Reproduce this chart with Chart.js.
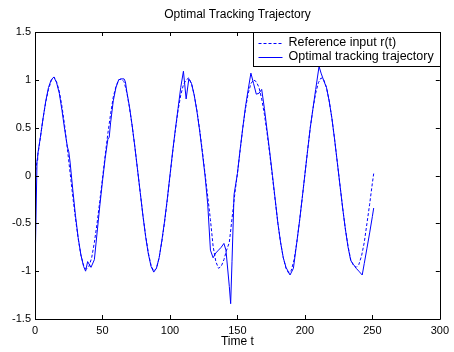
<!DOCTYPE html>
<html>
<head>
<meta charset="utf-8">
<script src="https://cdn.jsdelivr.net/npm/chart.js@4/dist/chart.umd.min.js"></script>
<style>
  body { margin: 0; background: #fff; }
  canvas { display: block; }
</style>
</head>
<body>
<canvas id="trackChart" width="454" height="352"></canvas>
<script>
// values
const refTime = [0,2,4,6,8,10,12,14,16,18,20,22,24,26,28,30,32,34,36,38,40,42,44,46,48,50,
  52,54,56,58,60,62,64,66,68,70,72,74,76,78,80,82,84,86,88,90,92,94,96,98,100,
  102,104,106,108,110,112,114,116,118,120,122,124,126,128,130,132,134,136,138,140,142,144,146,148,150,
  152,154,156,158,160,162,164,166,168,170,172,174,176,178,180,182,184,186,188,190,192,194,196,198,200,
  202,204,206,208,210,212,214,216,218,220,222,224,226,228,230,232,234,236,238,240,242,244,246,248,250,251];
const refValue = [0,0.2,0.4,0.6,0.77,0.9,0.99,1.03,0.98,0.88,0.72,0.52,0.28,0.03,-0.22,-0.45,-0.66,-0.83,-0.94,-0.98,-0.95,-0.86,-0.7,-0.5,-0.27,-0.03,
  0.21,0.44,0.64,0.82,0.93,1.0,1.01,0.98,0.87,0.71,0.52,0.3,0.06,-0.18,-0.42,-0.63,-0.81,-0.94,-1.0,-0.97,-0.86,-0.69,-0.49,-0.26,-0.01,
  0.24,0.47,0.68,0.84,0.95,1.0,1.02,0.96,0.84,0.68,0.48,0.26,0.02,-0.22,-0.46,-0.74,-0.9,-0.97,-0.95,-0.88,-0.78,-0.7,-0.45,-0.2,0.02,
  0.26,0.5,0.7,0.86,0.96,1.0,0.98,0.92,0.8,0.64,0.44,0.22,-0.02,-0.26,-0.5,-0.7,-0.86,-0.97,-1.02,-0.99,-0.88,-0.7,-0.48,-0.24,0.01,
  0.26,0.5,0.7,0.86,0.97,1.02,1.0,0.92,0.78,0.6,0.38,0.14,-0.1,-0.34,-0.56,-0.74,-0.88,-0.94,-0.96,-0.93,-0.84,-0.7,-0.5,-0.3,-0.08,0.02];

const trackTime = [0,1.5,2,4,6,8,10,12,14,16,18,20,22,24,25,26,28,30,32,34,36,37.5,39,41.5,44,46,48,50,
  52,54,55,56,58,60,62,64,66,67,68,70,72,74,76,78,80,82,84,86,88,90,92,94,96,98,100,
  102,104,106,108,110,112,114,116,118,120,122,124,126,128,130,132,134,136,138,140,141.5,144,145,146,147.5,150,
  152,154,156,158,160,162,164,166,168,170,172,174,176,178,180,182,184,186,189,191.5,194,196,198,200,
  202,204,206,208,210.5,212,214,216,218,220,222,224,226,228,230,232,234,236,238,240,242.5,244,246,248,250,251];
const trackValue = [-1.0,0.16,0.22,0.4,0.6,0.78,0.92,1.0,1.03,0.97,0.86,0.68,0.48,0.3,0.25,0.14,-0.15,-0.42,-0.65,-0.83,-0.95,-1.0,-0.9,-0.96,-0.88,-0.6,-0.32,-0.06,
  0.18,0.38,0.4,0.55,0.78,0.92,1.0,1.01,1.01,0.98,0.88,0.72,0.52,0.3,0.06,-0.18,-0.42,-0.64,-0.82,-0.95,-1.01,-0.97,-0.86,-0.68,-0.48,-0.25,0.0,
  0.25,0.48,0.7,0.92,1.09,0.8,1.01,0.96,0.84,0.67,0.47,0.24,0.0,-0.3,-0.78,-0.86,-0.81,-0.78,-0.75,-0.71,-0.78,-1.16,-1.34,-0.9,-0.2,0.02,
  0.27,0.5,0.72,0.9,1.07,0.96,0.85,0.86,0.9,0.7,0.47,0.24,0.0,-0.25,-0.5,-0.7,-0.86,-0.96,-1.04,-0.97,-0.7,-0.48,-0.24,0.01,
  0.26,0.5,0.7,0.9,1.14,1.07,0.99,0.92,0.78,0.6,0.38,0.14,-0.1,-0.34,-0.56,-0.75,-0.89,-0.93,-0.97,-1.0,-1.04,-0.92,-0.76,-0.6,-0.43,-0.34];

const xTicks = [0, 50, 100, 150, 200, 250, 300];
const yTicks = [-1.5, -1, -0.5, 0, 0.5, 1, 1.5];
const seriesNames = ["Reference input r(t)", "Optimal tracking trajectory"];

const FONT = "Liberation Sans, Arial, sans-serif";

function toPoints(xs, ys) {
    return xs.map((x, i) => ({ x: x, y: ys[i] }));
}

// box, inward ticks, title and legend in MATLAB style
const matlabFrame = {
    id: "matlabFrame",
    afterDraw(chart) {
        const ctx = chart.ctx;
        const a = chart.chartArea;
        const xs = chart.scales.x;
        const ys = chart.scales.y;
        ctx.save();
        ctx.strokeStyle = "#000";
        ctx.lineWidth = 1;
        ctx.setLineDash([]);
        ctx.beginPath();
        ctx.rect(Math.round(a.left) + 0.5, Math.round(a.top) + 0.5,
                 Math.round(a.right - a.left), Math.round(a.bottom - a.top));
        ctx.stroke();

        const len = 4;
        ctx.beginPath();
        xTicks.forEach(v => {
            const px = Math.round(xs.getPixelForValue(v)) + 0.5;
            ctx.moveTo(px, a.bottom); ctx.lineTo(px, a.bottom - len);
            ctx.moveTo(px, a.top); ctx.lineTo(px, a.top + len);
        });
        yTicks.forEach(v => {
            const py = Math.round(ys.getPixelForValue(v)) + 0.5;
            ctx.moveTo(a.left, py); ctx.lineTo(a.left + len, py);
            ctx.moveTo(a.right, py); ctx.lineTo(a.right - len, py);
        });
        ctx.stroke();

        // title
        ctx.fillStyle = "#000";
        ctx.font = "12px " + FONT;
        ctx.textAlign = "center";
        ctx.textBaseline = "middle";
        ctx.fillText("Optimal Tracking Trajectory", (a.left + a.right) / 2, 15);

        // legend box
        const bx = 253.5, by = Math.round(a.top) + 0.5, bw = Math.round(a.right) - 253, bh = 34;
        ctx.fillStyle = "#fff";
        ctx.fillRect(bx, by, bw, bh);
        ctx.strokeStyle = "#000";
        ctx.strokeRect(bx, by, bw, bh);
        const rows = [by + 10, by + 24];
        ctx.font = "12.5px " + FONT;
        chart.data.datasets.forEach((ds, i) => {
            ctx.strokeStyle = ds.borderColor;
            ctx.setLineDash(ds.borderDash || []);
            ctx.beginPath();
            ctx.moveTo(bx + 5, Math.round(rows[i]) + 0.5);
            ctx.lineTo(bx + 29, Math.round(rows[i]) + 0.5);
            ctx.stroke();
            ctx.setLineDash([]);
            ctx.fillStyle = "#000";
            ctx.textAlign = "left";
            ctx.fillText(seriesNames[i], bx + 35, rows[i]);
        });
        ctx.restore();
    }
};

const ctx = document.getElementById("trackChart").getContext("2d");
const trackChart = new Chart(ctx, {
    type: "line",
    data: {
        datasets: [
            {
                label: seriesNames[0],
                data: toPoints(refTime, refValue),
                borderColor: "#0000ff",
                borderWidth: 1,
                borderDash: [3, 2],
                pointRadius: 0,
                tension: 0,
            },
            {
                label: seriesNames[1],
                data: toPoints(trackTime, trackValue),
                borderColor: "#0000ff",
                borderWidth: 1,
                pointRadius: 0,
                tension: 0,
            },
        ],
    },
    options: {
        responsive: false,
        devicePixelRatio: 1,
        animation: false,
        layout: { padding: { top: 32, right: 9, left: 0, bottom: 0 } },
        plugins: {
            legend: { display: false },
            title: { display: false },
            tooltip: { enabled: false },
        },
        scales: {
            x: {
                type: "linear",
                min: 0,
                max: 300,
                afterBuildTicks: s => { s.ticks = xTicks.map(v => ({ value: v })); },
                afterFit: s => { s.height = 33; },
                grid: { display: false, drawTicks: false },
                border: { display: false },
                ticks: { color: "#000", padding: 5, font: { family: FONT, size: 11 },
                         callback: v => String(v) },
                title: {
                    display: true,
                    text: "Time t",
                    color: "#000",
                    padding: { top: 0, bottom: 3 },
                    font: { family: FONT, size: 12 },
                },
            },
            y: {
                min: -1.5,
                max: 1.5,
                afterBuildTicks: s => { s.ticks = yTicks.map(v => ({ value: v })); },
                afterFit: s => { s.width = 35; },
                grid: { display: false, drawTicks: false },
                border: { display: false },
                ticks: { color: "#000", padding: 4, font: { family: FONT, size: 11 },
                         callback: v => String(v) },
            },
        },
    },
    plugins: [matlabFrame],
});
</script>
</body>
</html>
